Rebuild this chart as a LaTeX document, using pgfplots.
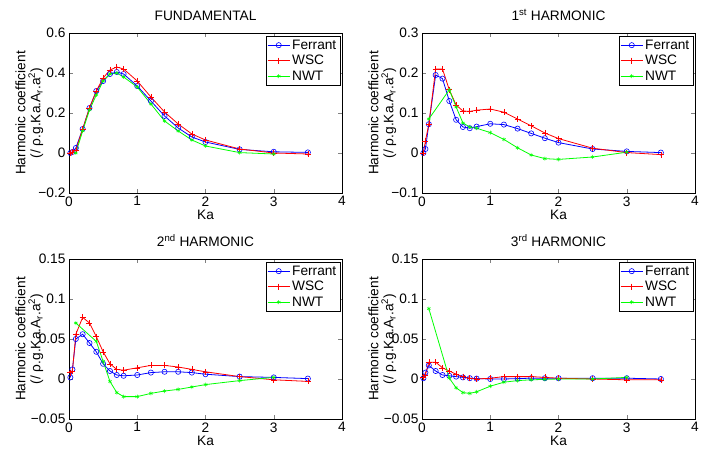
\documentclass[border=0pt]{standalone}
\usepackage{pgfplots}
\pgfplotsset{compat=1.18}
\usepackage{fontspec}
\setmainfont{Liberation Sans}

\definecolor{mblue}{RGB}{0,0,255}
\definecolor{mred}{RGB}{255,0,0}
\definecolor{mgreen}{RGB}{0,255,0}

\pgfplotsset{
  mystyle/.style={
    scale only axis, width=273pt, height=160pt,
    xmin=0, xmax=4, xtick={0,1,2,3,4},
    font=\fontsize{13.7}{16}\selectfont,
    /pgf/number format/assume math mode=true,
    tick align=inside, major tick length=4pt,
    every axis plot/.append style={line width=0.8pt},
    xlabel={Ka},
    xlabel style={at={(axis description cs:0.5,-0.135)}, anchor=center},
    ylabel={Harmonic coefficient\\(/ ρ.g.Ka.A\textsubscript{r}.a\textsuperscript{2})},
    ylabel style={align=center, at={(axis description cs:-0.145,0.5)}, anchor=center, font=\fontsize{13.7}{15}\selectfont},
    every axis title shift=0pt,
    title style={at={(axis description cs:0.5,1)}, anchor=base, yshift=12.5pt},
    legend style={at={(1,1)}, anchor=north east, xshift=-2pt, yshift=-3pt, inner sep=1.5pt, row sep=0.5pt, font=\fontsize{13.7}{16}\selectfont},
    legend cell align=left,
    legend image code/.code={\draw[mark repeat=2,mark phase=2] plot coordinates {(0pt,0pt) (11pt,0pt) (22pt,0pt)};},
  },
  fer/.style={color=mblue, mark=o, mark size=2.6pt, mark options={line width=0.6pt}},
  wsc/.style={color=mred, mark=+, mark size=3pt, mark options={line width=0.6pt}},
  nwt/.style={color=mgreen, mark=asterisk, mark size=2pt, mark options={line width=0.5pt}},
}

\begin{document}
\begin{tikzpicture}
\path[use as bounding box] (0pt,0pt) rectangle (717pt,453pt);

% FUNDAMENTAL
\begin{axis}[mystyle, at={(69pt,260pt)}, anchor=south west,
  ymin=-0.2, ymax=0.6, ytick={-0.2,0,0.2,0.4,0.6},
  yticklabels={−0.2,0,0.2,0.4,0.6},
  title={FUNDAMENTAL}]
\addplot[fer] coordinates {(0.02,0) (0.05,0.005) (0.1,0.025) (0.2,0.12) (0.3,0.225) (0.4,0.31) (0.5,0.36) (0.6,0.395) (0.7,0.405) (0.8,0.395) (1.0,0.335) (1.2,0.26) (1.4,0.185) (1.6,0.125) (1.8,0.08) (2.0,0.055) (2.5,0.018) (3.0,0.006) (3.5,0.003)};
\addlegendentry{Ferrant}
\addplot[wsc] coordinates {(0.02,0) (0.05,0.005) (0.1,0.015) (0.2,0.12) (0.3,0.225) (0.4,0.31) (0.5,0.375) (0.6,0.415) (0.7,0.43) (0.8,0.42) (1.0,0.36) (1.2,0.28) (1.4,0.205) (1.6,0.145) (1.8,0.095) (2.0,0.065) (2.5,0.02) (3.0,0.0) (3.5,-0.005)};
\addlegendentry{WSC}
\addplot[nwt] coordinates {(0.1,0.0) (0.2,0.11) (0.3,0.215) (0.4,0.29) (0.5,0.36) (0.6,0.395) (0.7,0.4) (0.8,0.38) (1.0,0.33) (1.2,0.245) (1.4,0.16) (1.6,0.11) (1.8,0.065) (2.0,0.035) (2.5,0.002) (3.0,-0.005)};
\addlegendentry{NWT}
\end{axis}

% 1st HARMONIC
\begin{axis}[mystyle, at={(422pt,260pt)}, anchor=south west,
  ymin=-0.1, ymax=0.3, ytick={-0.1,0,0.1,0.2,0.3},
  yticklabels={−0.1,0,0.1,0.2,0.3},
  title={1\textsuperscript{st} HARMONIC}]
\addplot[fer] coordinates {(0.02,0) (0.05,0.01) (0.1,0.072) (0.2,0.195) (0.3,0.186) (0.4,0.13) (0.5,0.083) (0.6,0.065) (0.7,0.062) (0.8,0.066) (1.0,0.073) (1.2,0.071) (1.4,0.061) (1.6,0.049) (1.8,0.037) (2.0,0.026) (2.5,0.01) (3.0,0.004) (3.5,0.001)};
\addlegendentry{Ferrant}
\addplot[wsc] coordinates {(0.02,0) (0.05,0.03) (0.1,0.072) (0.2,0.21) (0.3,0.21) (0.4,0.158) (0.5,0.12) (0.6,0.105) (0.7,0.104) (0.8,0.107) (1.0,0.11) (1.2,0.102) (1.4,0.085) (1.6,0.068) (1.8,0.05) (2.0,0.036) (2.5,0.012) (3.0,0.001) (3.5,-0.004)};
\addlegendentry{WSC}
\addplot[nwt] coordinates {(0.1,0.085) (0.4,0.158) (0.5,0.115) (0.6,0.075) (0.7,0.065) (0.8,0.062) (1.0,0.051) (1.2,0.034) (1.4,0.013) (1.6,-0.005) (1.8,-0.014) (2.0,-0.016) (2.5,-0.01) (3.0,0.002)};
\addlegendentry{NWT}
\end{axis}

% 2nd HARMONIC
\begin{axis}[mystyle, at={(69pt,34pt)}, anchor=south west,
  ymin=-0.05, ymax=0.15, ytick={-0.05,0,0.05,0.1,0.15},
  yticklabels={−0.05,0,0.05,0.1,0.15},
  title={2\textsuperscript{nd} HARMONIC}]
\addplot[fer] coordinates {(0.02,0.002) (0.05,0.012) (0.1,0.05) (0.2,0.056) (0.3,0.045) (0.4,0.034) (0.5,0.019) (0.6,0.01) (0.7,0.005) (0.8,0.004) (1.0,0.005) (1.2,0.008) (1.4,0.009) (1.6,0.009) (1.8,0.008) (2.0,0.006) (2.5,0.003) (3.0,0.002) (3.5,0.0005)};
\addlegendentry{Ferrant}
\addplot[wsc] coordinates {(0.02,0.008) (0.05,0.01) (0.1,0.056) (0.2,0.077) (0.3,0.07) (0.4,0.053) (0.5,0.034) (0.6,0.019) (0.7,0.012) (0.8,0.011) (1.0,0.014) (1.2,0.017) (1.4,0.017) (1.6,0.015) (1.8,0.012) (2.0,0.009) (2.5,0.003) (3.0,-0.001) (3.5,-0.003)};
\addlegendentry{WSC}
\addplot[nwt] coordinates {(0.1,0.07) (0.4,0.047) (0.5,0.022) (0.6,-0.003) (0.7,-0.017) (0.8,-0.022) (1.0,-0.022) (1.2,-0.018) (1.4,-0.015) (1.6,-0.013) (1.8,-0.01) (2.0,-0.007) (2.5,-0.002) (3.0,0.002)};
\addlegendentry{NWT}
\end{axis}

% 3rd HARMONIC
\begin{axis}[mystyle, at={(422pt,34pt)}, anchor=south west,
  ymin=-0.05, ymax=0.15, ytick={-0.05,0,0.05,0.1,0.15},
  yticklabels={−0.05,0,0.05,0.1,0.15},
  title={3\textsuperscript{rd} HARMONIC}]
\addplot[fer] coordinates {(0.02,0.001) (0.05,0.008) (0.1,0.017) (0.2,0.01) (0.3,0.005) (0.4,0.004) (0.5,0.003) (0.6,0.002) (0.7,0.001) (0.8,0.0005) (1.0,0.0) (1.2,0.0) (1.4,0.0005) (1.6,0.001) (1.8,0.001) (2.0,0.001) (2.5,0.001) (3.0,0.001) (3.5,0.0)};
\addlegendentry{Ferrant}
\addplot[wsc] coordinates {(0.02,0.002) (0.05,0.005) (0.1,0.021) (0.2,0.021) (0.3,0.014) (0.4,0.01) (0.5,0.006) (0.6,0.003) (0.7,0.001) (0.8,0.0) (1.0,0.001) (1.2,0.003) (1.4,0.003) (1.6,0.003) (1.8,0.002) (2.0,0.001) (2.5,0.0) (3.0,-0.001) (3.5,-0.001)};
\addlegendentry{WSC}
\addplot[nwt] coordinates {(0.1,0.088) (0.4,0.001) (0.5,-0.011) (0.6,-0.017) (0.7,-0.018) (0.8,-0.016) (1.0,-0.009) (1.2,-0.004) (1.4,-0.002) (1.6,-0.001) (1.8,-0.0005) (2.0,0.0) (2.5,0.0) (3.0,0.002)};
\addlegendentry{NWT}
\end{axis}
\end{tikzpicture}
\end{document}
